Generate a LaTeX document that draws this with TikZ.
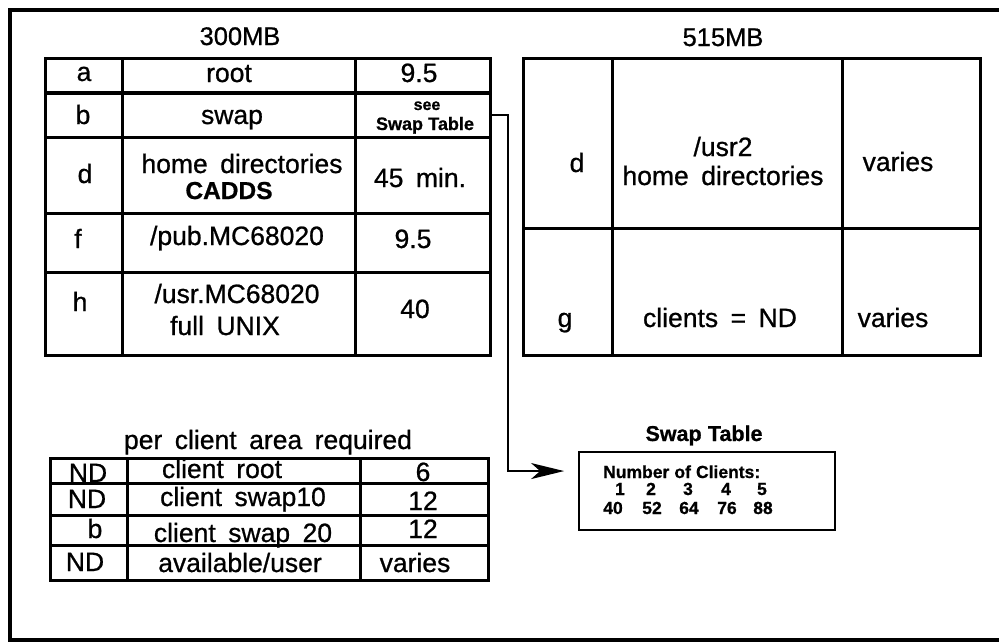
\documentclass[tikz,border=0pt]{standalone}
\usepackage{fontspec}
\setmainfont{Liberation Sans}[WordSpace=1.7,FakeBold=0.8,BoldFeatures={WordSpace=1.05}]
\usetikzlibrary{arrows.meta,calc}
\begin{document}
\begin{tikzpicture}[x=1pt,y=-1pt,
  txt/.style={inner sep=0pt,anchor=base,font=\fontsize{26.5}{28}\selectfont},
  ttl/.style={inner sep=0pt,anchor=base,font=\fontsize{25.5}{27}\selectfont},
  small/.style={inner sep=0pt,anchor=base,font=\fontsize{18}{19}\selectfont\bfseries},
  swp/.style={inner sep=0pt,anchor=base,font=\fontsize{17.5}{18}\selectfont\bfseries},
  frame/.style={line width=4.5pt},
  grid/.style={line width=3pt},
  thin/.style={line width=1.8pt}]
\useasboundingbox (0,0) rectangle (999,643);

% outer frame, open on the right
\draw[frame] (1010,10) -- (10,10) -- (10,640) -- (1010,640);

% ---- 300MB table ----
\node[ttl] (t300) at (240,45) {300MB};
\draw[grid] (45,58) rectangle (490,355);
\draw[grid] (122,58) -- (122,355);
\draw[grid] (355,58) -- (355,355);
\draw[line width=4pt] (45,93) -- (490,93);
\draw[grid] (45,137) -- (490,137);
\draw[grid] (45,213) -- (490,213);
\draw[grid] (45,272) -- (490,272);

\node[txt] (ra) at (84,81) {a};
\node[txt] (rroot) at (229,82) {root};
\node[txt] (rroots) at (419,82) {9.5};
\node[txt] (rb) at (83,124) {b};
\node[txt] (rswap) at (232,124) {swap};
\node[inner sep=0pt,anchor=base,font=\fontsize{16}{17}\selectfont\bfseries] (rsee) at (427,110) {see};
\node[small] (rsee2) at (425,130) {Swap Table};
\node[txt] (rd) at (85,183) {d};
\node[txt] (rhome) at (242,173) {home directories};
\node[inner sep=0pt,anchor=base,font=\fontsize{24.5}{26}\selectfont\bfseries] (rcadds) at (229,199) {CADDS};
\node[txt] (rdsize) at (420,187) {45 min.};
\node[txt] (rf) at (78,248) {f};
\node[txt] (rpub) at (237,245) {/pub.MC68020};
\node[txt] (rfsize) at (413,248) {9.5};
\node[txt] (rh) at (80,311) {h};
\node[txt] (rusr) at (237,303) {/usr.MC68020};
\node[txt] (runix) at (225,335) {full UNIX};
\node[txt] (rhsize) at (415,318) {40};

% ---- 515MB table ----
\node[ttl] (t515) at (723,46) {515MB};
\draw[grid] (523,58) rectangle (980,355);
\draw[grid] (612,58) -- (612,355);
\draw[grid] (842,58) -- (842,355);
\draw[grid] (523,228) -- (980,228);

\node[txt] (sd) at (577,172) {d};
\node[txt] (susr) at (723,156) {/usr2};
\node[txt] (shome) at (723,185) {home directories};
\node[txt] (sdsize) at (898,171) {varies};
\node[txt] (sg) at (565,327) {g};
\node[txt] (scl) at (720,327) {clients = ND};
\node[txt] (sgsize) at (893,327) {varies};

% ---- per client table ----
\node[txt] (tpc) at (268,449) {per client area required};
\draw[grid] (50,458) rectangle (488,580);
\draw[grid] (127,458) -- (127,580);
\draw[grid] (360,458) -- (360,580);
\draw[grid] (50,483) -- (488,483);
\draw[grid] (50,515) -- (488,515);
\draw[grid] (50,545) -- (488,545);

\node[txt] (p1a) at (88,482) {ND};
\node[txt] (p1b) at (222,478) {client root};
\node[txt] (p1c) at (423,481) {6};
\node[txt] (p2a) at (87,508) {ND};
\node[txt] (p2b) at (243,506) {client swap10};
\node[txt] (p2c) at (423,510) {12};
\node[txt] (p3a) at (95,538) {b};
\node[txt] (p3b) at (243,542) {client swap 20};
\node[txt] (p3c) at (423,538) {12};
\node[txt] (p4a) at (85,571) {ND};
\node[txt] (p4b) at (240,572) {available/user};
\node[txt] (p4c) at (415,572) {varies};

% ---- swap table ----
\node[inner sep=0pt,anchor=base,font=\fontsize{21.5}{23}\selectfont\bfseries] (tswap) at (704,441) {Swap Table};
\node[draw,thin,minimum width=256pt,minimum height=78pt,inner sep=0pt] (swapbox) at (707,491) {};
\node[swp,anchor=base west] (nclients) at (603,478) {Number of Clients:};
\node[swp] (n1) at (620,495) {1};
\node[swp] (n2) at (651,495) {2};
\node[swp] (n3) at (688,495) {3};
\node[swp] (n4) at (726,495) {4};
\node[swp] (n5) at (762,495) {5};
\node[swp] (v1) at (613,514) {40};
\node[swp] (v2) at (652,514) {52};
\node[swp] (v3) at (689,514) {64};
\node[swp] (v4) at (727,514) {76};
\node[swp] (v5) at (763,514) {88};

% connector from the swap entry to the swap table
\coordinate (swapcell) at (490,115);
\coordinate (swapin) at ($(swapbox.north west)!0.25!(swapbox.south west)$);
\draw[line width=1.8pt,-{Stealth[length=33pt,width=16pt,inset=9pt]},shorten >=14pt]
  (swapcell) -- (508,115) |- (swapin);
\end{tikzpicture}
\end{document}
